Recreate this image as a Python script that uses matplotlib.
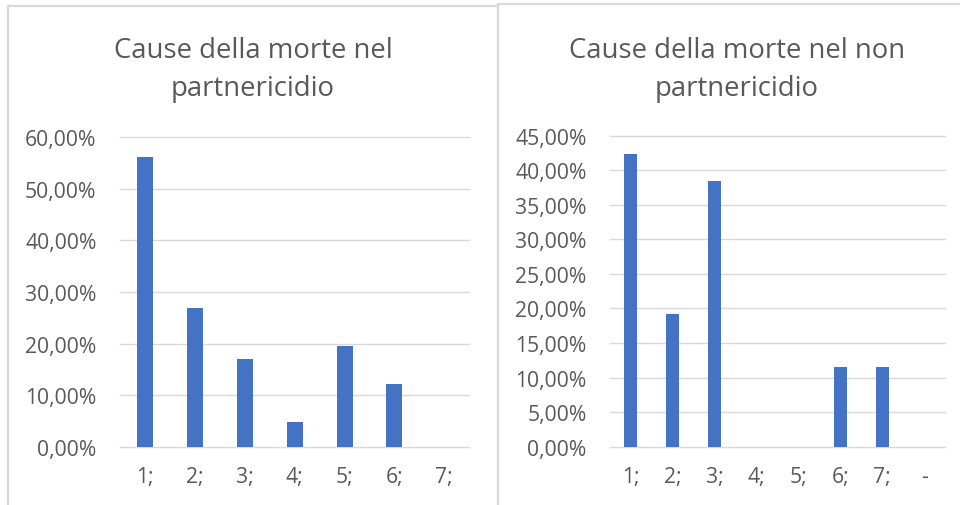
import matplotlib
matplotlib.use("Agg")
import matplotlib.pyplot as plt
from matplotlib.lines import Line2D

plt.rcParams['font.family'] = ['Open Sans', 'DejaVu Sans']

# data
left_title = "Cause della morte nel\npartnericidio"
left_labels = ["1;", "2;", "3;", "4;", "5;", "6;", "7;"]
left_values = [0.5610, 0.2683, 0.1707, 0.0488, 0.1951, 0.1220, 0.0]
left_ticks = [0.0, 0.1, 0.2, 0.3, 0.4, 0.5, 0.6]

right_title = "Cause della morte nel non\npartnericidio"
right_labels = ["1;", "2;", "3;", "4;", "5;", "6;", "7;", "-"]
right_values = [0.4231, 0.1923, 0.3846, 0.0, 0.0, 0.1154, 0.1154, 0.0]
right_ticks = [0.0, 0.05, 0.10, 0.15, 0.20, 0.25, 0.30, 0.35, 0.40, 0.45]

W, H = 960, 506
BAR = "#4472C4"
GRID = "#d9d9d9"
TXT = "#595959"


def pct(v):
    return ("%.2f%%" % (v * 100)).replace(".", ",")


def draw_chart(ax, labels, values, ticks, bar_width):
    x = range(len(labels))
    ax.bar(x, values, bar_width, color=BAR, zorder=3)
    ax.set_xlim(-0.5, len(labels) - 0.5)
    ax.set_ylim(ticks[0], ticks[-1])
    ax.set_yticks(ticks)
    ax.set_yticklabels([pct(t) for t in ticks])
    ax.set_xticks(list(x))
    ax.set_xticklabels(labels)
    for t in ticks:
        ax.axhline(t, color=GRID, lw=1.0, zorder=1, clip_on=False)
    for s in ax.spines.values():
        s.set_visible(False)
    ax.tick_params(axis="both", length=0, labelsize=15.2, colors=TXT)
    ax.tick_params(axis="y", pad=17)
    ax.tick_params(axis="x", pad=14)


fig = plt.figure(figsize=(W / 100, H / 100), dpi=100)

ax1 = fig.add_axes([120 / W, 1 - 447.7 / H, 349.3 / W, 309.4 / H])
draw_chart(ax1, left_labels, left_values, left_ticks, 0.32)

ax2 = fig.add_axes([610 / W, 1 - 447.7 / H, 335 / W, 311 / H])
draw_chart(ax2, right_labels, right_values, right_ticks, 0.31)

fig.text(253 / W, 1 - 70 / H, left_title, ha="center", va="center",
         fontsize=19.8, color=TXT, linespacing=1.52)
fig.text(737 / W, 1 - 70 / H, right_title, ha="center", va="center",
         fontsize=19.8, color=TXT, linespacing=1.52)

# chart frames
def frame_line(xs, ys):
    fig.add_artist(Line2D([v / W for v in xs], [1 - v / H for v in ys],
                          color=GRID, lw=1.6, transform=fig.transFigure))


frame_line([8, 8], [7, 506])
frame_line([8, 498], [7, 7])
frame_line([498, 498], [5, 506])
frame_line([498, 960], [5, 5])

fig.savefig("out.png", dpi=100)
